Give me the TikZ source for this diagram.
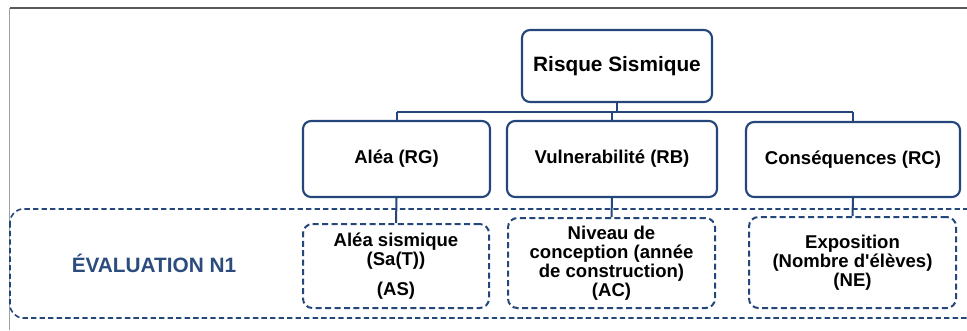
\documentclass[tikz,border=0pt]{standalone}
\usepackage{fontspec}
\setmainfont{Liberation Sans}[Ligatures=TeXOff]
\definecolor{navy}{RGB}{36,70,122}
\definecolor{navytext}{RGB}{44,76,126}
\definecolor{framegray}{RGB}{90,90,90}
\definecolor{framelight}{RGB}{160,160,160}
\tikzset{
  solidbox/.style={draw=navy, line width=1.6pt, rounded corners=6pt, fill=white,
    inner sep=0pt, align=center, font=\fontsize{13.9}{15}\selectfont\bfseries},
  dashbox/.style={draw=navy, line width=1.5pt, rounded corners=7pt, fill=white,
    dash pattern=on 4.5pt off 2.6pt, inner sep=0pt, align=center,
    font=\fontsize{13.9}{14.4}\selectfont\bfseries},
  link/.style={draw=navy, line width=1.5pt},
}
\begin{document}
\begin{tikzpicture}[x=0.75pt,y=-0.75pt]
\useasboundingbox (0,0) rectangle (967,330);
\fill[white] (0,0) rectangle (967,330);

% page frame
\draw[framelight, line width=1.1pt] (9.5,8) -- (9.5,330);
\draw[framegray, line width=1.1pt] (9.5,8) -- (967,8);

% level-one evaluation band (runs past the right edge)
\begin{scope}
\clip (0,0) rectangle (967,330);
\draw[navy, line width=1.2pt, dash pattern=on 4pt off 2.4pt, rounded corners=10pt]
  (10,209) rectangle (1010,318);
\end{scope}
\node[text=navytext, font=\fontsize{15.6}{17}\selectfont\bfseries] (lvl) at (154,263) {ÉVALUATION N1};

% tree
\node[solidbox, minimum width=142.5pt, minimum height=54pt,
  font=\fontsize{15.6}{17}\selectfont\bfseries] (risk) at (617,66) {Risque Sismique};

\node[solidbox, minimum width=140.25pt, minimum height=57pt] (alea) at (396.5,159) {Aléa (RG)};
\node[solidbox, minimum width=157.5pt, minimum height=57pt] (vuln) at (612,159) {Vulnerabilité (RB)};
\node[solidbox, minimum width=160.5pt, minimum height=56.25pt] (cons) at (853,159.5) {Conséquences (RC)};

\coordinate (bus) at (617,112);
\draw[link] (risk.south) -- (risk.south |- bus);
\draw[link] (alea.north |- bus) -- (cons.north |- bus);
\draw[link] (alea.north) -- (alea.north |- bus);
\draw[link] (vuln.north) -- (vuln.north |- bus);
\draw[link] (cons.north) -- (cons.north |- bus);

\node[dashbox, minimum width=139.5pt, minimum height=63pt] (as) at (396,266)
  {Aléa sismique\\(Sa(T))\\[7.5pt](AS)};
\node[dashbox, minimum width=155.25pt, minimum height=67.5pt] (ac) at (611.5,263)
  {Niveau de\\conception (année\\de construction)\\(AC)};
\node[dashbox, minimum width=155.25pt, minimum height=68.25pt] (ne) at (852.5,262.5)
  {Exposition\\(Nombre d'élèves)\\(NE)};

\draw[link] (alea.south) -- (as.north);
\draw[link] (vuln.south) -- (ac.north);
\draw[link] (cons.south) -- (ne.north);
\end{tikzpicture}
\end{document}
